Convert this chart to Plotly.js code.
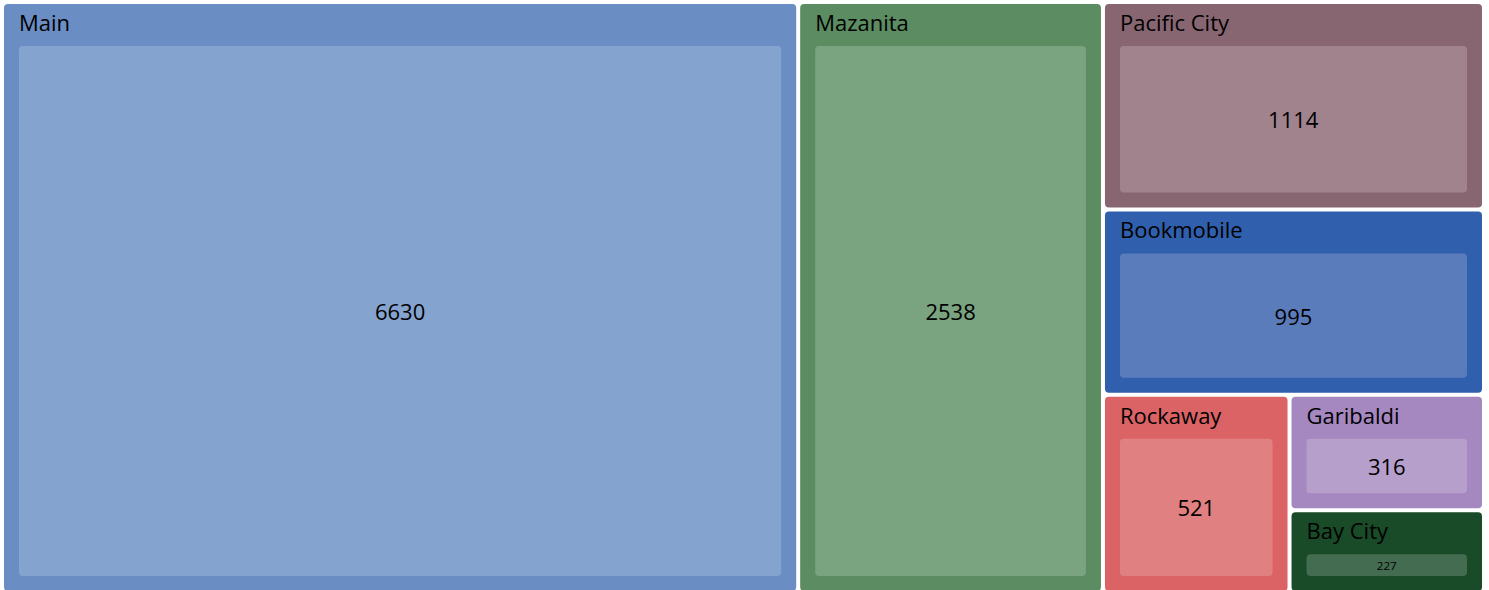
<!DOCTYPE html>
<html><head><meta charset="utf-8">
<script src="https://cdn.plot.ly/plotly-3.0.1.min.js"></script>
<style>html,body{margin:0;padding:0;background:#fff;overflow:hidden;width:1489px;height:590px;}
#wrap{position:relative;width:1489px;height:590px;overflow:hidden;}
#chart{position:absolute;left:-11px;top:-38px;width:1508px;height:644px;}</style>
</head><body><div id="wrap"><div id="chart"></div></div>
<script>
const branches = ["Main","Mazanita","Pacific City","Bookmobile","Rockaway","Garibaldi","Bay City"];
const counts = [6630,2538,1114,995,521,316,227];
const parentColors = ["#6a8dc4","#5b8c62","#876672","#305fad","#db6366","#a688c0","#1a4b28"];
const childColors = ["#85a3cf","#7aa37f","#a0838d","#5a7cbb","#e18080","#b79fcc","#436c50"];

const CLEAR = "rgba(0,0,0,0)";
const ids = [], labels = [], parents = [], values = [], colors = [], headColor = [], leafColor = [];
branches.forEach((b, i) => {
  ids.push(b); labels.push(b); parents.push(""); values.push(counts[i]); colors.push(parentColors[i]);
  headColor.push("#000000"); leafColor.push(CLEAR);
});
branches.forEach((b, i) => {
  ids.push(b + "-n"); labels.push(String(counts[i])); parents.push(b); values.push(counts[i]); colors.push(childColors[i]);
  headColor.push(CLEAR); leafColor.push("#000000");
});

const fam = "Open Sans, sans-serif";
const pad = {t: 42, l: 15, r: 15, b: 15};

const base = {
  type: "treemap",
  ids: ids, labels: labels, parents: parents, values: values,
  branchvalues: "total",
  textinfo: "label",
  tiling: {pad: 4},
  pathbar: {visible: false},
  sort: true,
  hoverinfo: "skip"
};

const leafFont = {family: fam, size: 22, color: leafColor};
const fills = Object.assign({}, base, {
  textposition: "middle center",
  textfont: leafFont, insidetextfont: leafFont, outsidetextfont: leafFont,
  marker: {colors: colors, line: {color: "#ffffff", width: 0}, cornerradius: 4, pad: pad}
});
const headFont = {family: fam, size: 22, color: headColor};
const heads = Object.assign({}, base, {
  textposition: "top left",
  textfont: headFont, insidetextfont: headFont, outsidetextfont: headFont,
  marker: {colors: ids.map(() => CLEAR), line: {color: CLEAR, width: 0}, cornerradius: 4, pad: pad}
});

Plotly.newPlot("chart", [fills, heads], {
  width: 1508, height: 644,
  margin: {l: 0, r: 0, t: 0, b: 0},
  paper_bgcolor: "rgba(0,0,0,0)",
  font: {family: fam, size: 22, color: "#000000"},
  showlegend: false
}, {displayModeBar: false, staticPlot: true}).then(gd => {
  // drop the invisible duplicate labels left by the overlay trace
  gd.querySelectorAll("text").forEach(t => {
    const op = t.style.fillOpacity;
    if (op === "0" || t.style.fill === "rgba(0, 0, 0, 0)" || t.style.fill === "transparent") t.remove();
  });
});
</script></body></html>
